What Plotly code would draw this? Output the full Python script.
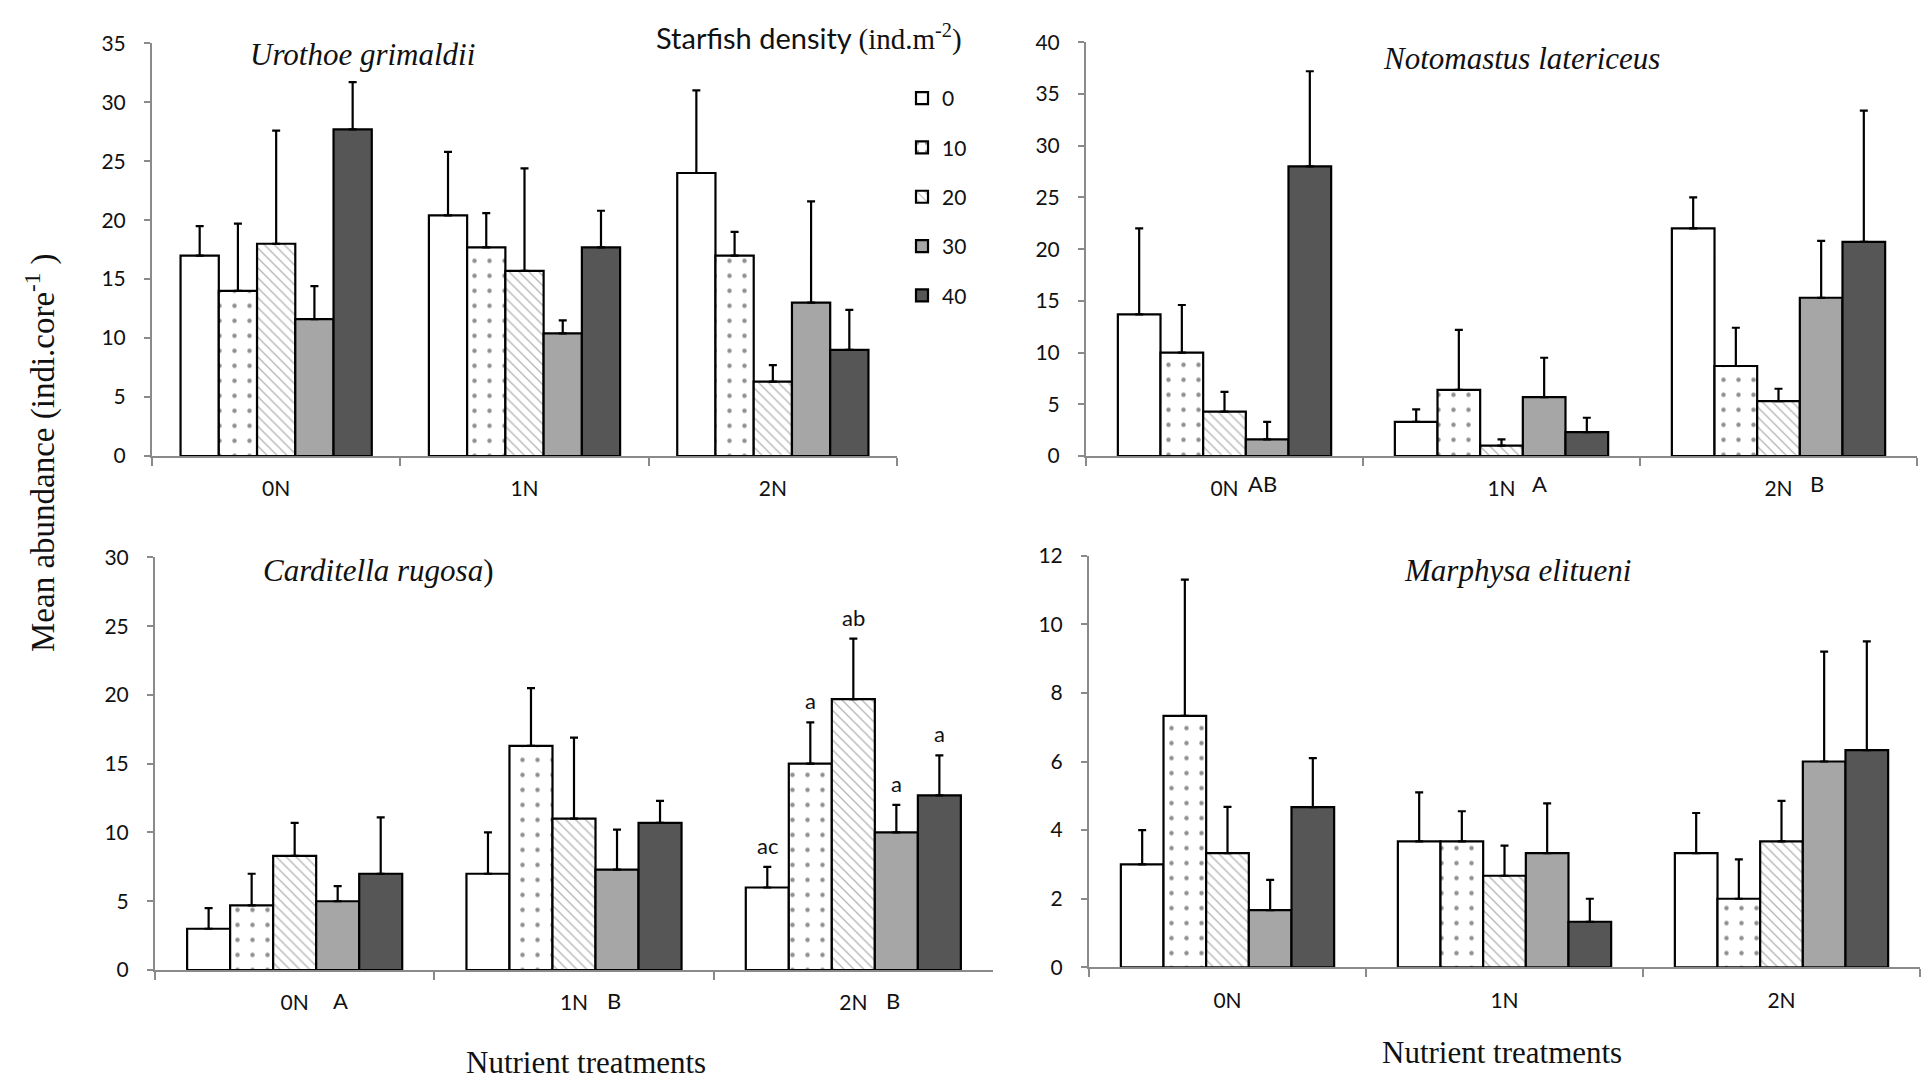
import plotly.graph_objects as go

# ---------------- data ----------------
categories = ["0N", "1N", "2N"]
densities = ["0", "10", "20", "30", "40"]

# rows = starfish density (0,10,20,30,40); cols = 0N, 1N, 2N
uro_mean = [[17.0, 20.4, 24.0], [14.0, 17.7, 17.0], [18.0, 15.7, 6.3], [11.6, 10.4, 13.0], [27.7, 17.7, 9.0]]
uro_err = [[2.5, 5.4, 7.0], [5.7, 2.9, 2.0], [9.6, 8.7, 1.4], [2.8, 1.1, 8.6], [4.0, 3.1, 3.4]]

noto_mean = [[13.7, 3.3, 22.0], [10.0, 6.4, 8.7], [4.3, 1.0, 5.3], [1.6, 5.7, 15.3], [28.0, 2.3, 20.7]]
noto_err = [[8.3, 1.2, 3.0], [4.6, 5.8, 3.7], [1.9, 0.6, 1.2], [1.7, 3.8, 5.5], [9.2, 1.4, 12.7]]

card_mean = [[3.0, 7.0, 6.0], [4.7, 16.3, 15.0], [8.3, 11.0, 19.7], [5.0, 7.3, 10.0], [7.0, 10.7, 12.7]]
card_err = [[1.5, 3.0, 1.5], [2.3, 4.2, 3.0], [2.4, 5.9, 4.4], [1.1, 2.9, 2.0], [4.1, 1.6, 2.9]]

marp_mean = [[3.0, 3.67, 3.33], [7.33, 3.67, 2.0], [3.33, 2.67, 3.67], [1.67, 3.33, 6.0], [4.67, 1.33, 6.33]]
marp_err = [[1.0, 1.43, 1.17], [3.97, 0.88, 1.15], [1.35, 0.88, 1.18], [0.88, 1.45, 3.2], [1.43, 0.67, 3.17]]

titles = ["Urothoe grimaldii", "Notomastus latericeus", "Carditella rugosa", "Marphysa elitueni"]
noto_letters = ["AB", "A", "B"]
card_letters = ["A", "B", "B"]
card_2n_letters = ["ac", "a", "ab", "a", "a"]

y_ranges = [35, 40, 30, 12]
y_dticks = [5, 5, 5, 2]

# ---------------- style ----------------
W, H = 1928, 1079
TICK_FONT = "Lato, Carlito, 'Open Sans', sans-serif"
SERIF = "'Liberation Serif', 'Times New Roman', serif"
AXIS_GREY = "#8a8a8a"
BARGAP = 0.23

fills = ["#ffffff", "#ffffff", "#ffffff", "#a6a6a6", "#565656"]
patterns = [
    dict(shape=""),
    dict(shape=".", size=15, solidity=0.07, fgcolor="#222222", bgcolor="#ffffff", fillmode="overlay"),
    dict(shape="\\", size=7, solidity=0.18, fgcolor="#666666", bgcolor="#ffffff", fillmode="overlay"),
    dict(shape=""),
    dict(shape=""),
]

# panel pixel boxes: (x0, x1, y_zero_px, y_top_px)
boxes = [
    (152, 897, 456, 43.3),
    (1086, 1917, 456, 42.3),
    (155, 993, 970, 557.4),
    (1089, 1920, 967.4, 555.6),
]
data_sets = [(uro_mean, uro_err), (noto_mean, noto_err), (card_mean, card_err), (marp_mean, marp_err)]

fig = go.Figure()
layout = dict(
    width=W, height=H, margin=dict(l=0, r=0, t=0, b=0, autoexpand=False),
    paper_bgcolor="white", plot_bgcolor="white",
    barmode="group", bargap=BARGAP, bargroupgap=0,
    showlegend=True,
    font=dict(family=TICK_FONT, color="#111111", size=21),
)

for p, ((means, errs), box) in enumerate(zip(data_sets, boxes)):
    x0, x1, yz, yt = box
    sfx = "" if p == 0 else str(p + 1)
    xa, ya = "x" + sfx, "y" + sfx
    for i, d in enumerate(densities):
        fig.add_trace(go.Bar(
            x=categories, y=means[i], name=d,
            xaxis=xa, yaxis=ya,
            legendgroup=d, showlegend=(p == 0),
            marker=dict(color=fills[i], line=dict(color="#000000", width=2.2), pattern=patterns[i]),
            error_y=dict(type="data", symmetric=False, array=errs[i], arrayminus=[0] * len(errs[i]),
                         color="#000000", thickness=2.2, width=4),
        ))
    layout["xaxis" + sfx] = dict(
        domain=[x0 / W, x1 / W], anchor=ya, type="category", automargin=False,
        showline=True, linecolor=AXIS_GREY, linewidth=2,
        ticks="outside", tickson="boundaries", ticklen=8, tickcolor=AXIS_GREY, tickwidth=2,
        ticklabelstandoff=13,
        tickfont=dict(family=TICK_FONT, size=21, color="#111111"),
        showgrid=False, zeroline=False, fixedrange=True,
    )
    layout["yaxis" + sfx] = dict(
        domain=[1 - yz / H, 1 - yt / H], anchor=xa, automargin=False,
        range=[0, y_ranges[p]], dtick=y_dticks[p],
        showline=True, linecolor=AXIS_GREY, linewidth=2,
        ticks="outside", ticklen=6, tickcolor=AXIS_GREY, tickwidth=2,
        ticklabelstandoff=14,
        tickfont=dict(family=TICK_FONT, size=21, color="#111111"),
        showgrid=False, zeroline=False, fixedrange=True,
    )

annotations = []
# panel titles
title_pos = [(362, 55), (1521, 58), (378, 570), (1517, 570)]
for p, (t, (tx, ty)) in enumerate(zip(titles, title_pos)):
    txt = "<i>%s</i>" % t + (")" if p == 2 else "")
    annotations.append(dict(text=txt, x=tx / W, y=1 - ty / H, xref="paper", yref="paper",
                            xanchor="center", yanchor="middle", showarrow=False,
                            font=dict(family=SERIF, size=31, color="#111111")))

# group letters next to category labels
for i, L in enumerate(noto_letters):
    annotations.append(dict(text=L, x=i, y=0, xref="x2", yref="y2", xshift=38, yshift=-27,
                            showarrow=False, font=dict(family=TICK_FONT, size=22, color="#111111")))
for i, L in enumerate(card_letters):
    annotations.append(dict(text=L, x=i, y=0, xref="x3", yref="y3", xshift=46 if i == 0 else 40,
                            yshift=-30, showarrow=False,
                            font=dict(family=TICK_FONT, size=22, color="#111111")))

# letters above 2N bars in Carditella panel
grp = 1 - BARGAP
bw = grp / len(densities)
for i, L in enumerate(card_2n_letters):
    xpos = 2 - grp / 2 + bw * (i + 0.5)
    annotations.append(dict(text=L, x=xpos, y=card_mean[i][2] + card_err[i][2], xref="x3", yref="y3",
                            yanchor="bottom", yshift=6, showarrow=False,
                            font=dict(family=TICK_FONT, size=22, color="#111111")))

# legend title
annotations.append(dict(
    text="Starfish density <span style='font-family:Liberation Serif'>(ind.m<sup>-2</sup>)</span>",
    x=654 / W, y=1 - 37 / H, xref="paper", yref="paper", xanchor="left", yanchor="middle",
    showarrow=False, font=dict(family=TICK_FONT, size=29, color="#111111")))

# y-axis title
annotations.append(dict(
    text="Mean abundance (indi.core<sup>-1</sup> )", x=40 / W, y=1 - 453 / H,
    xref="paper", yref="paper", xanchor="center", yanchor="middle", textangle=-90,
    showarrow=False, font=dict(family=SERIF, size=33, color="#111111")))

# x-axis titles
annotations.append(dict(text="Nutrient treatments", x=586 / W, y=1 - 1062 / H, xref="paper", yref="paper",
                        xanchor="center", yanchor="middle", showarrow=False,
                        font=dict(family=SERIF, size=31, color="#111111")))
annotations.append(dict(text="Nutrient treatments", x=1502 / W, y=1 - 1052 / H, xref="paper", yref="paper",
                        xanchor="center", yanchor="middle", showarrow=False,
                        font=dict(family=SERIF, size=31, color="#111111")))

layout["annotations"] = annotations
layout["legend"] = dict(
    x=902 / W, y=1 - 78 / H, xanchor="left", yanchor="top",
    bgcolor="rgba(0,0,0,0)", borderwidth=0,
    font=dict(family=TICK_FONT, size=21, color="#111111"),
    tracegroupgap=19, itemwidth=30, traceorder="grouped",
)
fig.update_layout(**layout)
fig.write_html("out.html")
